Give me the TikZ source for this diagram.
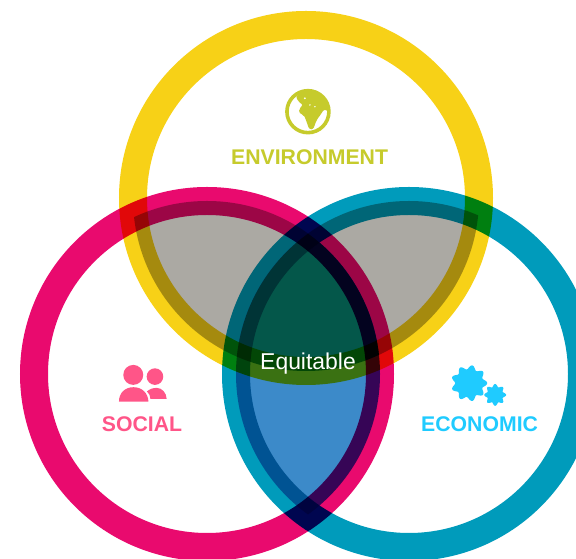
\documentclass[tikz,border=0pt]{standalone}
\usepackage{fontspec}
\setmainfont{Liberation Sans}
\definecolor{envring}{HTML}{F7D117}
\definecolor{socring}{HTML}{E90A6E}
\definecolor{ecoring}{HTML}{009BBB}
\definecolor{lensgray}{HTML}{ABA9A3}
\definecolor{lensblue}{HTML}{3C8AC9}
\definecolor{lensgreen}{HTML}{04574A}
\definecolor{envtext}{HTML}{C6CB2C}
\definecolor{soctext}{HTML}{FF5588}
\definecolor{ecotext}{HTML}{1FCBFF}

\begin{document}
\begin{tikzpicture}[ring/.style={line width=0.7cm, blend mode=multiply},
    title/.style={anchor=base, font=\bfseries\fontsize{15.1}{18}\selectfont},
    icon/.style={x=0.025cm, y=-0.025cm, yshift=13.975cm}]

    % Page, 576 x 559 px at 0.025cm per px
    \fill[white] (0,0) rectangle (14.4,13.975);
    \useasboundingbox (0,0) rectangle (14.4,13.975);
    \clip (0,0) rectangle (14.4,13.975);

    % Circle centres
    \coordinate (env) at (7.65,9.025);
    \coordinate (soc) at (5.175,4.625);
    \coordinate (eco) at (10.225,4.625);

    % Lenses
    \begin{scope}
        \clip (env) circle (4.325);
        \fill[lensgray] (soc) circle (4.325);
        \fill[lensgray] (eco) circle (4.325);
    \end{scope}
    \begin{scope}
        \clip (soc) circle (4.325);
        \fill[lensblue] (eco) circle (4.325);
    \end{scope}
    \begin{scope}
        \clip (env) circle (4.325);
        \clip (soc) circle (4.325);
        \fill[lensgreen] (eco) circle (4.325);
    \end{scope}

    % Rings
    \draw[ring, envring] (env) circle (4.325);
    \draw[ring, socring] (soc) circle (4.325);
    \draw[ring, ecoring] (eco) circle (4.325);

    % Labels
    \node[title, text=envtext] (envlabel) at (7.74,9.85) {ENVIRONMENT};
    \node[title, text=soctext] (soclabel) at (3.55,3.175) {SOCIAL};
    \node[title, text=ecotext] (ecolabel) at (11.99,3.175) {ECONOMIC};
    \node[anchor=base, text=white, font=\fontsize{16.3}{18}\selectfont] (equitable) at (7.7,4.725) {Equitable};

    % Globe
    \begin{scope}[icon]
        \draw[envtext, line width=0.09cm] (308,111.7) circle (21);
        \fill[envtext, rounded corners=1.5pt] (296,96) -- (303.3,92) -- (316.7,92) -- (326,100) -- (329.3,111.7)
            -- (324,109.3) -- (321.7,113.3) -- (316.7,120) -- (313.3,129.3) -- (309.3,129.3) -- (306,120)
            -- (304,115) -- (299.3,113.3) -- (299.3,108.3) -- (303.3,105) -- (298.3,101.7) -- cycle;
        \fill[white] (305,98.3) circle (1);
        \fill[white] (310,105) circle (0.8);
        \fill[white] (315,106.7) circle (0.8);
    \end{scope}

    % People
    \begin{scope}[icon]
        \fill[soctext] (133.3,375) circle (10);
        \fill[soctext] (155,376.7) circle (8.3);
        \fill[soctext] (119,401.7) .. controls (119,393) and (125,387.3) .. (133.5,387.3)
            .. controls (142,387.3) and (148,393) .. (148.5,401.7) -- cycle;
        \fill[soctext] (147,391.5) .. controls (150,389) and (153,388) .. (157,388)
            .. controls (162,388) and (166.5,393) .. (166.7,399) -- (150.5,399)
            .. controls (150.5,396) and (149,393.5) .. (147,391.5) -- cycle;
    \end{scope}

    % Gears
    \begin{scope}[icon]
        \fill[ecotext, shift={(469.3,383.3)}] plot[smooth, domain=0:360, samples=181] (\x:{16+2*cos(9*\x)}) -- cycle;
        \fill[ecotext, shift={(495.3,395)}] plot[smooth, domain=0:360, samples=161] (\x:{9.5+1.4*cos(8*\x)}) -- cycle;
    \end{scope}

\end{tikzpicture}
\end{document}
